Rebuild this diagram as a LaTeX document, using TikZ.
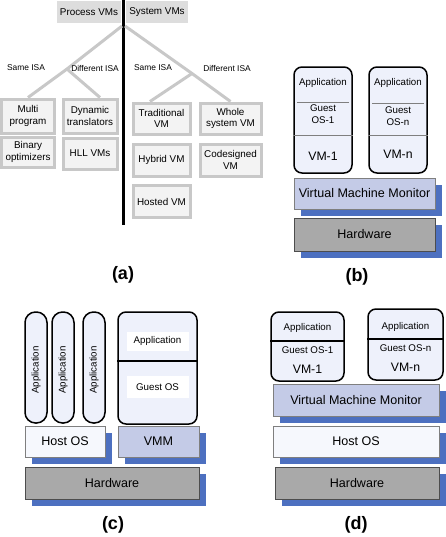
\documentclass[tikz,border=0pt]{standalone}
\usepackage{fontspec}
\setmainfont{Liberation Sans}
\usetikzlibrary{shadows}
\definecolor{hdrgray}{HTML}{DDDDDD}
\definecolor{treegray}{HTML}{C8C8C8}
\definecolor{abfill}{HTML}{F3F3F3}
\definecolor{vmfill}{HTML}{EEF1FB}
\definecolor{hostfill}{HTML}{F6F8FD}
\definecolor{vmmfill}{HTML}{C4CBE7}
\definecolor{shblue}{HTML}{4D70C0}
\definecolor{hwfill}{HTML}{A9A9A9}
\definecolor{hwdraw}{HTML}{4D4D4D}
\definecolor{edgegray}{HTML}{7F7F7F}
\def\u{0.75pt}
\tikzset{
  hdr/.style={fill=hdrgray, inner sep=0pt, font=\fontsize{7.4}{9}\selectfont},
  treeline/.style={draw=treegray, line width=3*\u},
  isa/.style={inner sep=0pt, font=\fontsize{6.3}{8}\selectfont},
  abox/.style={draw=treegray, fill=abfill, line width=3*\u, inner sep=0pt, align=center,
    font=\fontsize{7.4}{8.6}\selectfont},
  vmbox/.style={draw=black, fill=vmfill, line width=1.5*\u, rounded corners=8*\u, inner sep=0pt},
  pill/.style={draw=black, fill=vmfill, line width=1.5*\u, rounded corners=10.5*\u, inner sep=0pt,
    minimum width=22*\u, minimum height=111*\u},
  smalltxt/.style={inner sep=0pt, align=center, font=\fontsize{7.3}{9}\selectfont},
  vmname/.style={inner sep=0pt, font=\fontsize{9.2}{11}\selectfont},
  layerbox/.style={draw=edgegray, line width=0.8*\u, inner sep=0pt, font=\fontsize{9.4}{11}\selectfont,
    drop shadow={shadow xshift=7*\u, shadow yshift=-7*\u, fill=shblue, opacity=1}},
  hostlayer/.style={layerbox, fill=hostfill},
  vmmlayer/.style={layerbox, fill=vmmfill},
  hwlayer/.style={layerbox, fill=hwfill, draw=hwdraw},
  subcap/.style={inner sep=0pt, font=\fontsize{13.5}{15}\selectfont\bfseries},
  divline/.style={draw=edgegray, line width=0.8*\u},
  blkline/.style={draw=black, line width=1.5*\u},
  whitebg/.style={fill=white, inner sep=0pt}
}
\begin{document}
\begin{tikzpicture}[x=0.75pt, y=-0.75pt]
\useasboundingbox (0,0) rectangle (446,537);

% ---------------- (a) ----------------
\node[hdr, minimum width=64*\u, minimum height=22*\u] (pvm) at (89,12) {Process VMs};
\node[hdr, minimum width=62*\u, minimum height=22*\u] (svm) at (157,12) {System VMs};
\coordinate (vtop) at (123.5,0);
\coordinate (vbot) at (123.5,225);
\draw[line width=3*\u] (vtop) -- (vbot);

\node[abox, minimum width=53*\u, minimum height=34*\u] (multi) at (28,116) {Multi\\program};
\node[abox, minimum width=53*\u, minimum height=30*\u] (binary) at (28,152) {Binary\\optimizers};
\node[abox, minimum width=54*\u, minimum height=34*\u] (dyn) at (90,116) {Dynamic\\translators};
\node[abox, minimum width=54*\u, minimum height=31*\u] (hll) at (90,153.5) {HLL VMs};
\node[abox, minimum width=57*\u, minimum height=31*\u] (trad) at (161.5,118.5) {Traditional\\VM};
\node[abox, minimum width=57*\u, minimum height=32*\u] (hybrid) at (161.5,160) {Hybrid VM};
\node[abox, minimum width=57*\u, minimum height=32*\u] (hosted) at (161.5,201.5) {Hosted VM};
\node[abox, minimum width=61*\u, minimum height=31*\u] (whole) at (230.5,118.5) {Whole\\system VM};
\node[abox, minimum width=61*\u, minimum height=32*\u] (codes) at (230.5,160) {Codesigned\\VM};

\coordinate (papex) at (122,26);
\coordinate (pbranch) at (67,69);
\coordinate (sapex) at (125,26);
\coordinate (sbranch) at (192,73.5);
\draw[treeline] (papex) -- (pbranch) -- (multi.north);
\draw[treeline] (pbranch) -- (dyn.north -| 100,0);
\draw[treeline] (sapex) -- (sbranch) -- (whole.north);
\draw[treeline] (sbranch) -- (trad.north -| 150,0);

\node[isa] (sisa1) at (26,68) {Same ISA};
\node[isa] (disa1) at (95,68) {Different ISA};
\node[isa] (sisa2) at (153,68) {Same ISA};
\node[isa] (disa2) at (227,68) {Different ISA};

\node[subcap] (capa) at (123,275) {(a)};

% ---------------- (b) ----------------
\node[vmmlayer, minimum width=141*\u, minimum height=31*\u] (bvmm) at (364.5,193.5) {Virtual Machine Monitor};
\node[hwlayer, minimum width=141*\u, minimum height=33*\u] (bhw) at (364.5,234.5) {Hardware};

\node[vmbox, minimum width=58*\u, minimum height=106*\u] (bvm1) at (323,120) {};
\draw[divline] (297,102) -- (349,102);
\draw[divline] (bvm1.west |- 0,135) -- (bvm1.east |- 0,135);
\node[smalltxt] (bapp1) at (323,83) {Application};
\node[smalltxt] (bgos1) at (323,114.5) {Guest\\OS-1};
\node[vmname] (bvmn1) at (323,156) {VM-1};

\node[vmbox, minimum width=58*\u, minimum height=106*\u] (bvm2) at (398,120) {};
\draw[divline] (372,103) -- (424,103);
\draw[divline] (bvm2.west |- 0,135) -- (bvm2.east |- 0,135);
\node[smalltxt] (bapp2) at (398,83) {Application};
\node[smalltxt] (bgos2) at (398,116) {Guest\\OS-n};
\node[vmname] (bvmn2) at (398,154) {VM-n};

\node[subcap] (capb) at (357,277) {(b)};

% ---------------- (c) ----------------
\node[pill] (pill1) at (36,367.5) {};
\node[pill] (pill2) at (63,367.5) {};
\node[pill] (pill3) at (94,367.5) {};
\node[smalltxt, rotate=90] (papp1) at (36,370) {Application};
\node[smalltxt, rotate=90] (papp2) at (63,370) {Application};
\node[smalltxt, rotate=90] (papp3) at (94,370) {Application};

\node[vmbox, minimum width=79*\u, minimum height=112*\u] (cvm) at (157.5,368) {};
\draw[blkline] (cvm.west |- 0,361) -- (cvm.east |- 0,361);
\node[smalltxt, whitebg, minimum width=62*\u, minimum height=19*\u] (capp) at (157.5,341) {Application};
\node[smalltxt, whitebg, minimum width=62*\u, minimum height=22*\u] (cgos) at (157.5,387) {Guest OS};

\node[hostlayer, minimum width=80*\u, minimum height=31*\u] (chost) at (65,441.5) {Host OS};
\node[vmmlayer, minimum width=81*\u, minimum height=31*\u] (cvmm) at (158.5,441.5) {VMM};
\node[hwlayer, minimum width=174*\u, minimum height=32*\u] (chw) at (112,483) {Hardware};

\node[subcap] (capc) at (113,525) {(c)};

% ---------------- (d) ----------------
\node[vmbox, minimum width=73*\u, minimum height=69*\u] (dvm1) at (307.5,346.5) {};
\draw[blkline] (dvm1.west |- 0,341) -- (dvm1.east |- 0,341);
\node[smalltxt] (dapp1) at (307.5,328) {Application};
\node[smalltxt] (dgos1) at (307.5,350) {Guest OS-1};
\node[vmname] (dvmn1) at (307.5,369) {VM-1};

\node[vmbox, minimum width=75*\u, minimum height=71*\u] (dvm2) at (405.5,344.5) {};
\draw[blkline] (dvm2.west |- 0,339) -- (dvm2.east |- 0,339);
\node[smalltxt] (dapp2) at (405.5,327) {Application};
\node[smalltxt] (dgos2) at (405.5,348) {Guest OS-n};
\node[vmname] (dvmn2) at (405.5,367) {VM-n};

\node[vmmlayer, minimum width=166*\u, minimum height=32*\u] (dvmm) at (356,400) {Virtual Machine Monitor};
\node[hostlayer, minimum width=166*\u, minimum height=31*\u] (dhost) at (356,441.5) {Host OS};
\node[hwlayer, minimum width=164*\u, minimum height=32*\u] (dhw) at (357,483) {Hardware};

\node[subcap] (capd) at (356,525) {(d)};
\end{tikzpicture}
\end{document}
